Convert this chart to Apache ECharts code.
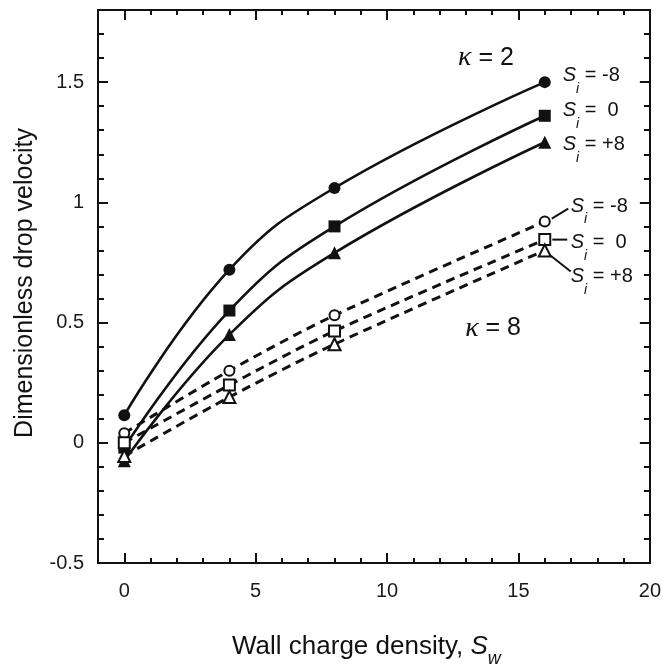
<!DOCTYPE html>
<html><head><meta charset="utf-8">
<script src="https://cdn.jsdelivr.net/npm/echarts@6/dist/echarts.min.js"></script>
<style>html,body{margin:0;padding:0;background:#fff}#c{width:664px;height:668px}</style>
</head><body><div id="c"></div>
<script>
// ---- data ----
const xValues = [0, 4, 8, 16];
const k2_m8 = [0.115, 0.72, 1.06, 1.50];
const k2_0  = [-0.02, 0.55, 0.90, 1.36];
const k2_p8 = [-0.075, 0.45, 0.79, 1.25];
const k8_m8 = [0.04, 0.30, 0.53, 0.92];
const k8_0  = [0.0, 0.24, 0.465, 0.845];
const k8_p8 = [-0.055, 0.19, 0.41, 0.80];
const xMajorTicks = [0, 5, 10, 15, 20];
const yMajorTicks = [-0.5, 0, 0.5, 1, 1.5];
const siTexts = [' = -8', ' =  0', ' = +8'];
const kappaTexts = [' = 2', ' = 8'];

const INK = '#111';
const SANS = 'Liberation Sans, Arial, sans-serif';
const SERIF = 'Liberation Serif, Times New Roman, serif';

function xAx(pos, major, labels) {
  const a = {
    type: 'value', position: pos, min: -1, max: 20, interval: 1,
    axisLine: {show: true, onZero: false, lineStyle: {color: INK, width: 2}},
    axisTick: {show: true, inside: true, length: major ? 10 : 5, lineStyle: {color: INK, width: 2}},
    axisLabel: {show: labels, margin: 18, fontSize: 20, color: '#1a1a1a', fontFamily: SANS},
    splitLine: {show: false}
  };
  if (major) a.axisTick.customValues = xMajorTicks;
  if (labels) a.axisLabel.customValues = xMajorTicks;
  return a;
}
function yAx(pos, major, labels) {
  const a = {
    type: 'value', position: pos, min: -0.5, max: 1.8, interval: 0.1,
    axisLine: {show: true, onZero: false, lineStyle: {color: INK, width: 2}},
    axisTick: {show: true, inside: true, length: major ? 10 : 6, lineStyle: {color: INK, width: 2}},
    axisLabel: {show: labels, margin: 14, fontSize: 20, color: '#1a1a1a', fontFamily: SANS,
      formatter: v => String(Math.round(v * 10) / 10)},
    splitLine: {show: false}
  };
  if (major) a.axisTick.customValues = yMajorTicks;
  if (labels) a.axisLabel.customValues = yMajorTicks;
  return a;
}

function pts(ys) { return xValues.map((x, i) => [x, ys[i]]); }

function solid(name, ys, symbol, size) {
  return {
    name, type: 'line', data: pts(ys), smooth: 0.45, xAxisIndex: 0, yAxisIndex: 0,
    symbol, symbolSize: size, showAllSymbol: true,
    lineStyle: {color: INK, width: 2.6},
    itemStyle: {color: INK, borderColor: INK, borderWidth: 0, opacity: 1},
    z: 3, animation: false
  };
}
function dashed(name, ys, symbol, size) {
  return {
    name, type: 'line', data: pts(ys), smooth: 0.3, xAxisIndex: 0, yAxisIndex: 0,
    symbol, symbolSize: size, showAllSymbol: true,
    lineStyle: {color: INK, width: 3, type: [9, 6]},
    itemStyle: {color: '#fff', borderColor: INK, borderWidth: 2, opacity: 1},
    z: 4, animation: false
  };
}

const chart = echarts.init(document.getElementById('c'), null, {renderer: 'canvas'});
chart.setOption({
  animation: false,
  backgroundColor: '#fff',
  grid: {left: 98, right: 12, top: 10, bottom: 105, containLabel: false},
  xAxis: [xAx('bottom', false, false), xAx('bottom', true, true), xAx('top', false, false), xAx('top', true, false)],
  yAxis: [yAx('left', false, false), yAx('left', true, true), yAx('right', false, false), yAx('right', true, false)],
  series: [
    solid('k2 Si=-8', k2_m8, 'circle', 12),
    solid('k2 Si=0', k2_0, 'rect', 12),
    solid('k2 Si=+8', k2_p8, 'triangle', 13),
    dashed('k8 Si=-8', k8_m8, 'circle', 10),
    dashed('k8 Si=0', k8_0, 'rect', 11),
    dashed('k8 Si=+8', k8_p8, 'triangle', 12)
  ]
});

// ---- annotations ----
const siRich = {
  h: {fontSize: 1, lineHeight: 30, verticalAlign: 'top'},
  S: {fontFamily: SANS, fontStyle: 'italic', fontSize: 20, lineHeight: 24, verticalAlign: 'top', fill: INK},
  i: {fontFamily: SANS, fontStyle: 'italic', fontSize: 14, lineHeight: 16, verticalAlign: 'bottom', fill: INK},
  t: {fontFamily: SANS, fontSize: 20, lineHeight: 24, verticalAlign: 'top', fill: INK}
};
function px(x, y) { return chart.convertToPixel({xAxisIndex: 0, yAxisIndex: 0}, [x, y]); }
function siLabel(p, dx, dyCenter, txt) {
  return {type: 'text', x: p[0] + dx, y: p[1] + dyCenter - 8.5, z: 10,
    style: {text: '{h|\u200b}{S|S}{i|i}{t|' + txt + '}', rich: siRich, align: 'left', verticalAlign: 'top', fill: INK}};
}
const last = xValues.length - 1;
const k2Ends = [k2_m8, k2_0, k2_p8].map(s => px(xValues[last], s[last]));
const k8Ends = [k8_m8, k8_0, k8_p8].map(s => px(xValues[last], s[last]));
const k2dy = [-8, -6.5, 1];
const k8dy = [-16.5, 1.5, 25];
const leaders = [[7, -3, 23.5, -13], [7.5, 0, 22.5, 0], [6, 5.3, 26, 21]];

const graphics = [];
k2Ends.forEach((p, i) => graphics.push(siLabel(p, 18, k2dy[i], siTexts[i])));
k8Ends.forEach((p, i) => {
  graphics.push(siLabel(p, 26, k8dy[i], siTexts[i]));
  const l = leaders[i];
  graphics.push({type: 'line', z: 9, shape: {x1: p[0] + l[0], y1: p[1] + l[1], x2: p[0] + l[2], y2: p[1] + l[3]},
    style: {stroke: INK, lineWidth: 2}});
});
const kRich = {
  k: {fontFamily: SERIF, fontStyle: 'italic', fontSize: 28, fill: INK, lineHeight: 30},
  t: {fontFamily: SANS, fontSize: 25, fill: INK, lineHeight: 30}
};
const kAnchors = [[12.7, 1.6], [12.97, 0.476]];
kAnchors.forEach((a, i) => {
  const p = px(a[0], a[1]);
  graphics.push({type: 'text', x: p[0], y: p[1], z: 10,
    style: {text: '{k|κ}{t|' + kappaTexts[i] + '}', rich: kRich, align: 'left', verticalAlign: 'middle', fill: INK}});
});
// axis titles
graphics.push({type: 'text', x: 232, y: 634, z: 10,
  style: {text: '{h|\u200b}{a|Wall charge density, }{S|S}{w|w}', align: 'left', verticalAlign: 'top', fill: INK,
    rich: {
      h: {fontSize: 1, lineHeight: 34, verticalAlign: 'top'},
      a: {fontFamily: SANS, fontSize: 26, lineHeight: 30, verticalAlign: 'top', fill: INK},
      S: {fontFamily: SANS, fontStyle: 'italic', fontSize: 26, lineHeight: 30, verticalAlign: 'top', fill: INK},
      w: {fontFamily: SANS, fontStyle: 'italic', fontSize: 18, lineHeight: 20, verticalAlign: 'bottom', fill: INK}
    }}});
graphics.push({type: 'text', x: 25, y: 283, rotation: Math.PI / 2, z: 10,
  style: {text: 'Dimensionless drop velocity', font: '25px ' + SANS, align: 'center', verticalAlign: 'middle', fill: INK}});

chart.setOption({graphic: graphics});
</script>
</body></html>
